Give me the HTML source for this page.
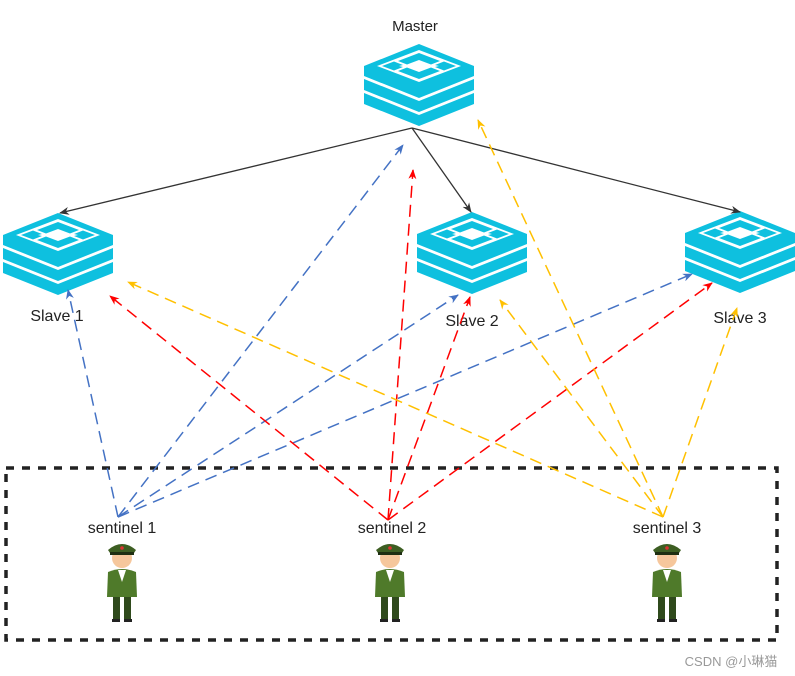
<!DOCTYPE html>
<html><head><meta charset="utf-8"><style>
html,body{margin:0;padding:0;background:#fff}
svg{display:block}
text{font-family:"Liberation Sans","Noto Sans CJK SC",sans-serif;fill:#222}
</style></head><body>
<svg width="795" height="676" viewBox="0 0 795 676" xmlns="http://www.w3.org/2000/svg">
<defs>
<g id="redis">
  <polygon points="55,0 110,22 110,32 55,54 0,32 0,22" fill="#0ec0df"/>
  <polygon points="55,6 97,22 55,38 13,22" fill="#fff"/>
  <polygon points="55,9 76,17 67,20.5 55,16 43,20.5 34,17" fill="#0ec0df"/>
  <polygon points="55,35 76,27 67,23.5 55,28 43,23.5 34,27" fill="#0ec0df"/>
  <polygon points="18,22 30,17.5 39,21 35,22 39,23 30,26.5" fill="#0ec0df"/>
  <polygon points="92,22 80,17.5 71,21 75,22 71,23 80,26.5" fill="#0ec0df"/>
  <polygon points="0,35 55,57 110,35 110,46 55,68 0,46" fill="#0ec0df"/>
  <polygon points="0,49 55,71 110,49 110,60 55,82 0,60" fill="#0ec0df"/>
</g>
<g id="soldier">
  <rect x="-9" y="52" width="7" height="26" fill="#2f4a1c"/>
  <rect x="2" y="52" width="7" height="26" fill="#2f4a1c"/>
  <path d="M-14,30 Q0,24 14,30 L15,55 L-15,55 Z" fill="#4f7a2a"/>
  <polygon points="-4,28 0,40 4,28" fill="#fff"/>
  <circle cx="0" cy="16" r="10" fill="#f6c79c"/>
  <path d="M-14,8 Q0,-4 14,8 L12,11 L-12,11 Z" fill="#3d5e22"/>
  <rect x="-12" y="10" width="24" height="3" fill="#1f2f12"/>
  <circle cx="0" cy="6" r="1.8" fill="#d33"/>
  <rect x="-10" y="77" width="8" height="3" fill="#222"/>
  <rect x="2" y="77" width="8" height="3" fill="#222"/>
</g>
<marker id="ab" markerWidth="10" markerHeight="10" refX="9" refY="5" orient="auto" markerUnits="userSpaceOnUse"><path d="M0,1 L10,5 L0,9 L3,5 Z" fill="#333"/></marker>
<marker id="abl" markerWidth="10" markerHeight="10" refX="9" refY="5" orient="auto" markerUnits="userSpaceOnUse"><path d="M0,1 L10,5 L0,9 L3,5 Z" fill="#4472c4"/></marker>
<marker id="ar" markerWidth="10" markerHeight="10" refX="9" refY="5" orient="auto" markerUnits="userSpaceOnUse"><path d="M0,1 L10,5 L0,9 L3,5 Z" fill="#ff0000"/></marker>
<marker id="ay" markerWidth="10" markerHeight="10" refX="9" refY="5" orient="auto" markerUnits="userSpaceOnUse"><path d="M0,1 L10,5 L0,9 L3,5 Z" fill="#ffc000"/></marker>
</defs>

<rect x="6" y="468" width="771" height="172" fill="none" stroke="#222" stroke-width="3.5" stroke-dasharray="8,8"/>

<use href="#redis" x="364" y="44"/>
<use href="#redis" x="3" y="213"/>
<use href="#redis" x="417" y="212"/>
<use href="#redis" x="685" y="211"/>

<text x="415" y="31" font-size="15" text-anchor="middle">Master</text>
<text x="57" y="321" font-size="16" text-anchor="middle">Slave 1</text>
<text x="472" y="326" font-size="16" text-anchor="middle">Slave 2</text>
<text x="740" y="323" font-size="16" text-anchor="middle">Slave 3</text>
<text x="122" y="533" font-size="16" text-anchor="middle">sentinel 1</text>
<text x="392" y="533" font-size="16" text-anchor="middle">sentinel 2</text>
<text x="667" y="533" font-size="16" text-anchor="middle">sentinel 3</text>

<g stroke="#333" stroke-width="1.3" fill="none">
  <line x1="412" y1="128" x2="60" y2="213" marker-end="url(#ab)"/>
  <line x1="412" y1="128" x2="471" y2="212" marker-end="url(#ab)"/>
  <line x1="412" y1="128" x2="740" y2="212" marker-end="url(#ab)"/>
</g>
<g stroke-width="1.5" fill="none" stroke-dasharray="12,7">
  <g stroke="#4472c4">
    <line x1="118" y1="517" x2="68" y2="290" marker-end="url(#abl)"/>
    <line x1="118" y1="517" x2="403" y2="145" marker-end="url(#abl)"/>
    <line x1="118" y1="517" x2="458" y2="295" marker-end="url(#abl)"/>
    <line x1="118" y1="517" x2="692" y2="274" marker-end="url(#abl)"/>
  </g>
  <g stroke="#ff0000">
    <line x1="388" y1="520" x2="110" y2="296" marker-end="url(#ar)"/>
    <line x1="388" y1="520" x2="413" y2="170" marker-end="url(#ar)"/>
    <line x1="388" y1="520" x2="470" y2="297" marker-end="url(#ar)"/>
    <line x1="388" y1="520" x2="712" y2="283" marker-end="url(#ar)"/>
  </g>
  <g stroke="#ffc000">
    <line x1="663" y1="517" x2="128" y2="282" marker-end="url(#ay)"/>
    <line x1="663" y1="517" x2="478" y2="120" marker-end="url(#ay)"/>
    <line x1="663" y1="517" x2="500" y2="300" marker-end="url(#ay)"/>
    <line x1="663" y1="517" x2="737" y2="308" marker-end="url(#ay)"/>
  </g>
</g>

<use href="#soldier" x="122" y="542"/>
<use href="#soldier" x="390" y="542"/>
<use href="#soldier" x="667" y="542"/>

<text x="731" y="666" font-size="13" text-anchor="middle" style="fill:#999">CSDN @小琳猫</text>
</svg>
</body></html>
